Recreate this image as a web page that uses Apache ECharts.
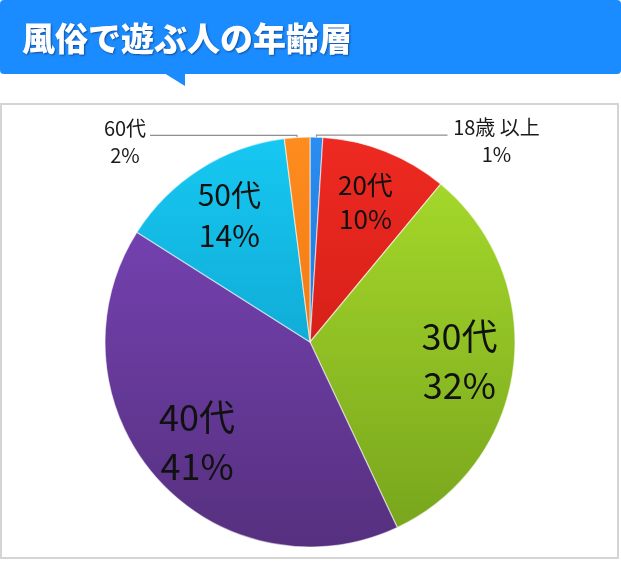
<!DOCTYPE html>
<html>
<head>
<meta charset="utf-8">
<script src="https://cdn.jsdelivr.net/npm/echarts@6/dist/echarts.min.js"></script>
<style>
html,body{margin:0;padding:0;background:#fff;}
#c{width:621px;height:561px;}
</style>
</head>
<body>
<div id="c"></div>
<script>
// ---- data ----
const titleText = '風俗で遊ぶ人の年齢層';
const categories = ['18歳 以上', '20代', '30代', '40代', '50代', '60代'];
const values = [1, 10, 32, 41, 14, 2];

// ---- styles (separate from data) ----
const FONT = '"Noto Sans CJK JP", "Noto Sans", sans-serif';
const topColors = ['#2a8df0', '#ee2a22', '#aade2c', '#7c46bd', '#16c8f2', '#ff8c1e'];
const botColors = ['#1866c2', '#c0160f', '#76a31c', '#56307f', '#0a92bb', '#e06a0c'];
const insideFont = [null, 26, 36, 36, 30, null];
const insideLH = [null, 34, 49, 49, 41, null];
const outsideCfg = {
  0: { length: 2, length2: 131, width: 94 },
  5: { length: 2, length2: 147, width: 46 }
};

const CX = 310, CY = 342, R = 205;

function grad(i) {
  return new echarts.graphic.LinearGradient(0, CY - R, 0, CY + R, [
    { offset: 0, color: topColors[i] },
    { offset: 1, color: botColors[i] }
  ], true);
}

const mainData = categories.map((name, i) => {
  const d = { name: name, value: values[i], itemStyle: { color: grad(i) } };
  const oc = outsideCfg[i];
  if (oc) {
    d.label = {
      show: true, position: 'outside', distanceToLabelLine: 2,
      formatter: '{a|{b}}\n{a|{c}%}',
      padding: [12, 0, 0, 0],
      rich: { a: { width: oc.width, align: 'center', fontSize: 20, lineHeight: 27, fontFamily: FONT, color: '#1a1a1a' } }
    };
    d.labelLine = { show: true, length: oc.length, length2: oc.length2, lineStyle: { color: '#8f8f8f', width: 1.2 } };
  } else {
    d.label = { show: false };
    d.labelLine = { show: false };
  }
  return d;
});

const labelData = categories.map((name, i) => {
  const d = { name: name, value: values[i] };
  if (insideFont[i]) {
    d.label = { show: true, fontSize: insideFont[i], lineHeight: insideLH[i] };
  } else {
    d.label = { show: false };
  }
  return d;
});

const chart = echarts.init(document.getElementById('c'), null, { renderer: 'canvas' });
chart.setOption({
  animation: false,
  graphic: [
    { type: 'rect', shape: { x: 1, y: 104, width: 617, height: 454 }, style: { fill: '#fff', stroke: '#d4d4d4', lineWidth: 2 }, z: -10, silent: true },
    { type: 'rect', shape: { x: 0, y: 0, width: 621, height: 74, r: 4 }, style: { fill: '#1a8cff' }, z: -5, silent: true },
    { type: 'polygon', shape: { points: [[164, 73], [185, 73], [185, 86]] }, style: { fill: '#1a8cff' }, z: -5, silent: true }
  ],
  title: {
    text: titleText, left: 17, top: 17,
    textStyle: {
      color: '#fff', fontSize: 33, fontWeight: 900, fontFamily: FONT,
      textShadowColor: 'rgba(0,0,40,0.45)', textShadowBlur: 2, textShadowOffsetX: 1, textShadowOffsetY: 1
    }
  },
  series: [
    {
      type: 'pie', center: [CX, CY], radius: [0, R], startAngle: 90, clockwise: true,
      avoidLabelOverlap: false, silent: true,
      itemStyle: { borderColor: 'rgba(255,255,255,0.55)', borderWidth: 1.2 },
      emphasis: { disabled: true },
      data: mainData
    },
    {
      type: 'pie', center: [CX, CY], radius: [R * 0.44, R], startAngle: 90, clockwise: true,
      silent: true, avoidLabelOverlap: false,
      itemStyle: { color: 'rgba(0,0,0,0)' },
      emphasis: { disabled: true },
      label: { position: 'inside', formatter: '{b}\n{c}%', color: '#111', fontFamily: FONT },
      labelLine: { show: false },
      data: labelData
    }
  ]
});
</script>
</body>
</html>
